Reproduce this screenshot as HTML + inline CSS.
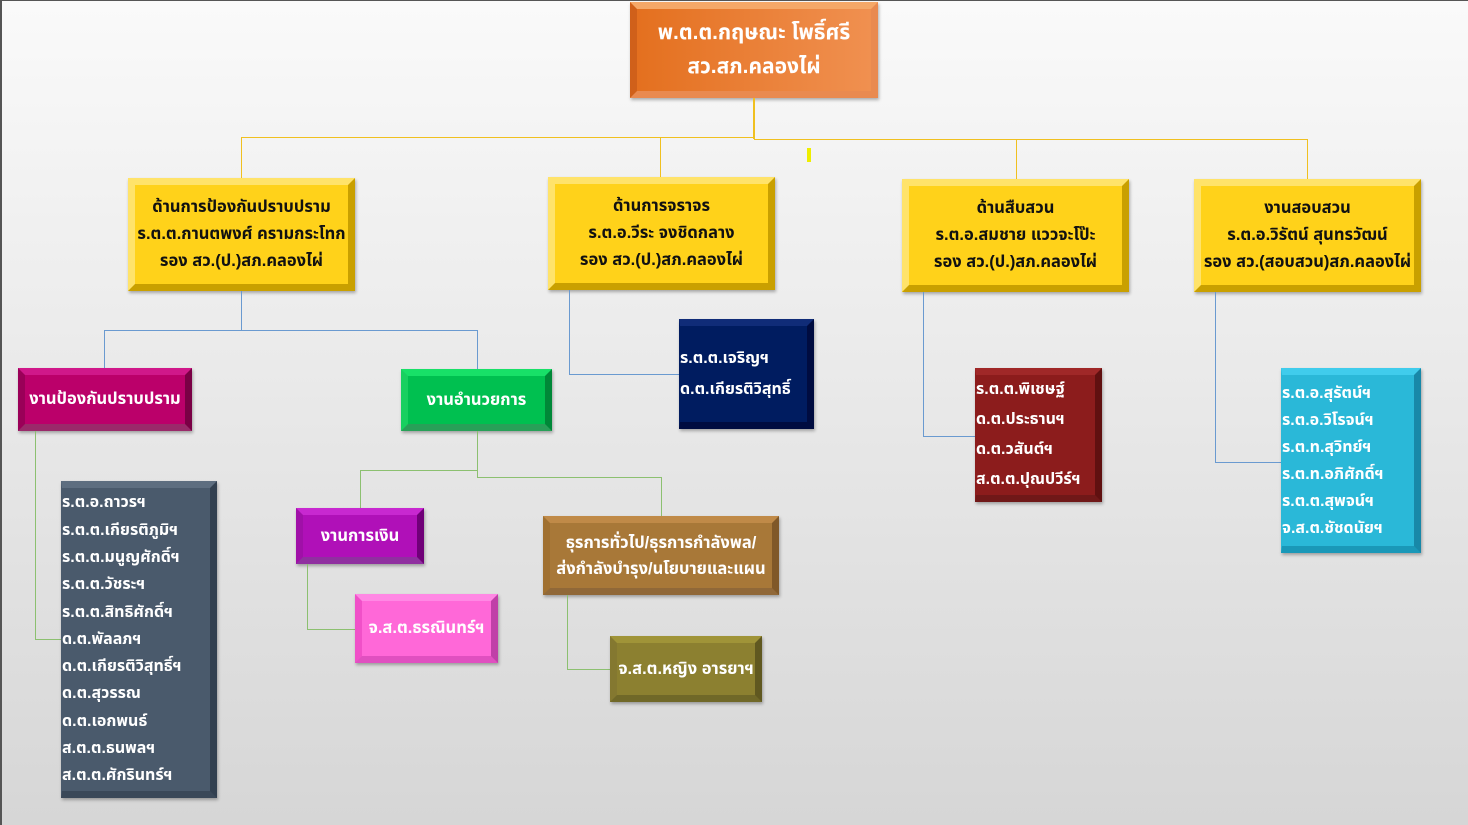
<!DOCTYPE html><html><head><meta charset="utf-8"><style>
body{margin:0;width:1468px;height:825px;overflow:hidden;position:relative;background:linear-gradient(#fafafa,#d6d6d6);font-family:"Liberation Sans","Noto Sans Thai","Tlwg Typo",sans-serif}
.fr{position:absolute;left:0;top:0;width:1468px;height:825px;box-sizing:border-box;border-top:1px solid #555;border-left:2px solid #555}
.b{position:absolute;box-sizing:border-box;border:7px solid;display:flex;flex-direction:column;justify-content:center;font-weight:bold;color:#fff;font-size:16.5px;line-height:27px;box-shadow:1px 2px 3px rgba(0,0,0,.3);white-space:nowrap;overflow:visible}
.c{text-align:center;align-items:center}
.l{position:absolute;background:#f0c020}
.y{background:#ffd21a;border-color:#ffe36a #c9a000 #c9a000 #ffe36a;color:#111}
</style></head><body><div class="fr"></div>
<div class="b c" style="left:630px;top:2px;width:248px;height:96px;background:linear-gradient(90deg,#e4701f,#f09050);border-color:#f5a868 #e98a50 #e98a50 #d0601a;font-size:21px;line-height:34px"><div>พ.ต.ต.กฤษณะ โพธิ์ศรี<br>สว.สภ.คลองไผ่</div></div>
<div class="l" style="left:753px;top:98px;width:2px;height:41px"></div>
<div class="l" style="left:241px;top:137px;width:513px;height:1px"></div>
<div class="l" style="left:754px;top:139px;width:553px;height:1px"></div>
<div class="l" style="left:241px;top:137px;width:1px;height:41px"></div>
<div class="l" style="left:660px;top:137px;width:1px;height:40px"></div>
<div class="l" style="left:1016px;top:139px;width:1px;height:40px"></div>
<div class="l" style="left:1307px;top:139px;width:1px;height:40px"></div>
<div class="l" style="left:807px;top:148px;width:4px;height:14px;background:#ee0"></div>
<div class="b c y" style="left:128px;top:178px;width:227px;height:113px"><div>ด้านการป้องกันปราบปราม<br>ร.ต.ต.กานตพงศ์ ครามกระโทก<br>รอง สว.(ป.)สภ.คลองไผ่</div></div>
<div class="b c y" style="left:548px;top:177px;width:227px;height:113px"><div>ด้านการจราจร<br>ร.ต.อ.วีระ จงชิดกลาง<br>รอง สว.(ป.)สภ.คลองไผ่</div></div>
<div class="b c y" style="left:902px;top:179px;width:227px;height:113px"><div>ด้านสืบสวน<br>ร.ต.อ.สมชาย แววจะโป๊ะ<br>รอง สว.(ป.)สภ.คลองไผ่</div></div>
<div class="b c y" style="left:1194px;top:179px;width:227px;height:113px"><div>งานสอบสวน<br>ร.ต.อ.วิรัตน์ สุนทรวัฒน์<br>รอง สว.(สอบสวน)สภ.คลองไผ่</div></div>
<div class="l" style="left:241px;top:291px;width:1px;height:39px;background:#6a9ad0"></div>
<div class="l" style="left:104px;top:330px;width:374px;height:1px;background:#6a9ad0"></div>
<div class="l" style="left:104px;top:330px;width:1px;height:38px;background:#6a9ad0"></div>
<div class="l" style="left:477px;top:330px;width:1px;height:39px;background:#6a9ad0"></div>
<div class="l" style="left:569px;top:290px;width:1px;height:84px;background:#6a9ad0"></div>
<div class="l" style="left:569px;top:374px;width:110px;height:1px;background:#6a9ad0"></div>
<div class="l" style="left:923px;top:292px;width:1px;height:144px;background:#6a9ad0"></div>
<div class="l" style="left:923px;top:436px;width:52px;height:1px;background:#6a9ad0"></div>
<div class="l" style="left:1215px;top:292px;width:1px;height:170px;background:#6a9ad0"></div>
<div class="l" style="left:1215px;top:462px;width:66px;height:1px;background:#6a9ad0"></div>
<div class="b c" style="left:18px;top:368px;width:174px;height:63px;background:#bb006a;border-color:#d0188a #7a0045 #9a2a6a #9a0058"><div>งานป้องกันปราบปราม</div></div>
<div class="b c" style="left:401px;top:369px;width:151px;height:62px;background:#00c050;border-color:#18e068 #008838 #28a058 #18d060"><div>งานอำนวยการ</div></div>
<div class="b" style="left:679px;top:319px;width:135px;height:110px;background:#001c60;border-color:#102c78 #000c40 #000c40 #001c60;border-left-width:1px;font-size:16px;line-height:31px"><div>ร.ต.ต.เจริญฯ<br>ด.ต.เกียรติวิสุทธิ์</div></div>
<div class="b" style="left:975px;top:368px;width:127px;height:134px;background:#8c1c1c;border-color:#a02828 #601010 #701818 #8c1c1c;border-left-width:1px;font-size:16px;line-height:30px"><div>ร.ต.ต.พิเชษฐ์<br>ด.ต.ประธานฯ<br>ด.ต.วสันต์ฯ<br>ส.ต.ต.ปุณปวีร์ฯ</div></div>
<div class="b" style="left:1281px;top:368px;width:140px;height:185px;background:#2ab8d8;border-color:#40ccec #1888a8 #1a98b8 #2ab8d8;border-left-width:1px;font-size:16px;line-height:27px"><div>ร.ต.อ.สุรัตน์ฯ<br>ร.ต.อ.วิโรจน์ฯ<br>ร.ต.ท.สุวิทย์ฯ<br>ร.ต.ท.อภิศักดิ์ฯ<br>ร.ต.ต.สุพจน์ฯ<br>จ.ส.ต.ชัชดนัยฯ</div></div>
<div class="l" style="left:35px;top:431px;width:1px;height:208px;background:#8cc070"></div>
<div class="l" style="left:35px;top:639px;width:26px;height:1px;background:#8cc070"></div>
<div class="b" style="left:61px;top:481px;width:156px;height:317px;background:#4a5a6c;border-color:#5e6e80 #324050 #3a4858 #4a5a6c;border-left-width:1px;font-size:16px;line-height:27.3px"><div>ร.ต.อ.ถาวรฯ<br>ร.ต.ต.เกียรติภูมิฯ<br>ร.ต.ต.มนูญศักดิ์ฯ<br>ร.ต.ต.วัชระฯ<br>ร.ต.ต.สิทธิศักดิ์ฯ<br>ด.ต.พัลลภฯ<br>ด.ต.เกียรติวิสุทธิ์ฯ<br>ด.ต.สุวรรณ<br>ด.ต.เอกพนธ์<br>ส.ต.ต.ธนพลฯ<br>ส.ต.ต.ศักรินทร์ฯ</div></div>
<div class="l" style="left:477px;top:431px;width:1px;height:46px;background:#8cc070"></div>
<div class="l" style="left:360px;top:470px;width:117px;height:1px;background:#8cc070"></div>
<div class="l" style="left:360px;top:470px;width:1px;height:38px;background:#8cc070"></div>
<div class="l" style="left:477px;top:477px;width:184px;height:1px;background:#8cc070"></div>
<div class="l" style="left:661px;top:477px;width:1px;height:39px;background:#8cc070"></div>
<div class="b c" style="left:296px;top:508px;width:128px;height:56px;background:#b010b8;border-color:#c828d0 #700078 #9030a0 #a010a8"><div>งานการเงิน</div></div>
<div class="l" style="left:307px;top:564px;width:1px;height:65px;background:#8cc070"></div>
<div class="l" style="left:307px;top:629px;width:48px;height:1px;background:#8cc070"></div>
<div class="b c" style="left:355px;top:594px;width:143px;height:69px;background:#ff68d8;border-color:#ff88e4 #c040a8 #e050c0 #f050c8"><div>จ.ส.ต.ธรณินทร์ฯ</div></div>
<div class="b c" style="left:543px;top:516px;width:236px;height:79px;background:#a87838;border-color:#c08a48 #805828 #906838 #a07030;line-height:26px"><div>ธุรการทั่วไป/ธุรการกำลังพล/<br>ส่งกำลังบำรุง/นโยบายและแผน</div></div>
<div class="l" style="left:567px;top:595px;width:1px;height:74px;background:#8cc070"></div>
<div class="l" style="left:567px;top:669px;width:43px;height:1px;background:#8cc070"></div>
<div class="b c" style="left:610px;top:636px;width:152px;height:66px;background:#8c8030;border-color:#a09438 #605820 #706828 #847830"><div>จ.ส.ต.หญิง อารยาฯ</div></div>
</body></html>
